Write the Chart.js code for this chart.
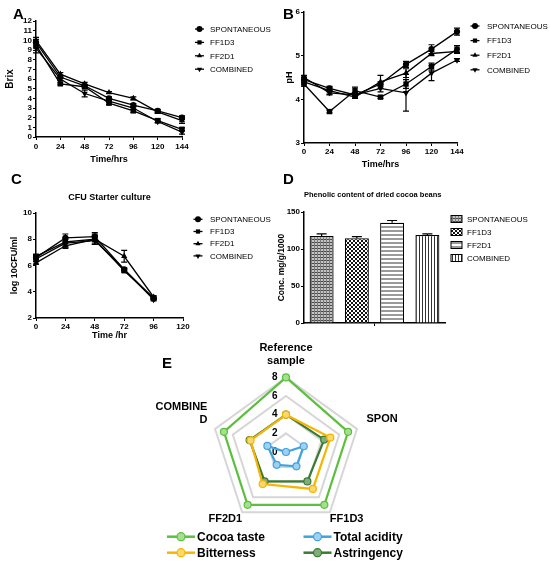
<!DOCTYPE html>
<html><head><meta charset="utf-8">
<script src="https://cdn.jsdelivr.net/npm/chart.js@4.4.1/dist/chart.umd.min.js"></script>
<style>
html,body{margin:0;padding:0;background:#fff}
body{width:550px;height:566px;position:relative;overflow:hidden;font-family:'Liberation Sans',Arial,sans-serif}
canvas{position:absolute;display:block}
.tag{position:absolute;font-weight:bold;font-size:15px;line-height:15px;color:#000;z-index:5}
</style></head><body>
<canvas id="cE" width="372" height="246" style="left:100px;top:320px"></canvas>
<canvas id="cA" width="275" height="170" style="left:0;top:0"></canvas>
<canvas id="cB" width="275" height="170" style="left:275px;top:0"></canvas>
<canvas id="cC" width="275" height="176" style="left:0;top:170px"></canvas>
<canvas id="cD" width="275" height="170" style="left:275px;top:170px"></canvas>
<div class="tag" style="left:13px;top:6px">A</div>
<div class="tag" style="left:283px;top:6px">B</div>
<div class="tag" style="left:11px;top:171px">C</div>
<div class="tag" style="left:283px;top:171px">D</div>
<div class="tag" style="left:162px;top:355px">E</div>
<script>
// ---------- data ----------
const timeHrs = [0, 24, 48, 72, 96, 120, 144];
const timeHrC = [0, 24, 48, 72, 96];
const timeTicksC = [0, 24, 48, 72, 96, 120];
const seriesNames = ['SPONTANEOUS', 'FF1D3', 'FF2D1', 'COMBINED'];

const brixTicks = [0,1,2,3,4,5,6,7,8,9,10,11,12];
const brixSpontaneous = [9.8, 6.2, 5.3, 4.0, 3.3, 2.7, 2.0];
const brixFF1D3       = [9.5, 5.5, 5.2, 3.5, 2.7, 1.7, 0.8];
const brixFF2D1       = [10.0, 6.5, 5.5, 4.6, 4.0, 2.6, 1.7];
const brixCombined    = [9.2, 6.0, 4.5, 3.7, 3.0, 1.6, 0.5];
const brixErrSpontaneous = [0.3, 0.15, 0.15, 0.15, 0.15, 0.15, 0.2];
const brixErrFF1D3       = [0.3, 0.1, 0.15, 0.15, 0.15, 0.2, 0.15];
const brixErrFF2D1       = [0.3, 0.15, 0.15, 0.1, 0.15, 0.15, 0.3];
const brixErrCombined    = [0.5, 0.15, 0.35, 0.15, 0.15, 0.15, 0.2];

const phTicks = [3, 4, 5, 6];
const phSpontaneous = [4.45, 4.25, 4.1, 4.35, 4.8, 5.15, 5.55];
const phFF1D3       = [4.35, 3.72, 4.2, 4.05, 4.35, 4.75, 5.15];
const phFF2D1       = [4.4, 4.2, 4.05, 4.4, 4.6, 5.05, 5.1];
const phCombined    = [4.5, 4.15, 4.1, 4.25, 4.15, 4.6, 4.9];
const phErrSpontaneous = [0.05, 0.05, 0.04, 0.05, 0.07, 0.1, 0.08];
const phErrFF1D3       = [0.05, 0.03, 0.08, 0.03, 0.1, 0.08, 0.08];
const phErrFF2D1       = [0.05, 0.08, 0.03, 0.15, 0.1, 0.05, 0.05];
const phErrCombined    = [0.05, 0.05, 0.05, 0.08, 0.42, 0.17, 0.03];

const cfuTicks = [2, 4, 6, 8, 10];
const cfuSpontaneous = [6.6, 8.1, 8.2, 5.7, 3.5];
const cfuFF1D3       = [6.7, 7.8, 8.0, 5.6, 3.5];
const cfuFF2D1       = [6.2, 7.5, 8.0, 6.7, 3.6];
const cfuCombined    = [6.5, 7.7, 7.9, 5.7, 3.4];
const cfuErrSpontaneous = [0.15, 0.3, 0.3, 0.1, 0.1];
const cfuErrFF1D3       = [0.15, 0.3, 0.3, 0.1, 0.1];
const cfuErrFF2D1       = [0.1, 0.2, 0.4, 0.45, 0.1];
const cfuErrCombined    = [0.1, 0.3, 0.3, 0.1, 0.1];

const phenolicTicks = [0, 50, 100, 150];
const phenolicValues = [117.5, 114.5, 135.5, 119];
const phenolicErrors = [3, 2.2, 3, 1.5];

const sensoryAxes = [['Reference', 'sample'], 'SPON', 'FF1D3', 'FF2D1', ['COMBINE', 'D']];
const sensoryTicks = [0, 2, 4, 6, 8];
const sensoryNames = ['Cocoa taste', 'Total acidity', 'Bitterness', 'Astringency'];
const cocoaTaste   = [8, 7, 7, 7, 7];
const totalAcidity = [0, 2, 1.9, 1.7, 2.1];
const bitterness   = [4, 5, 4.9, 4.25, 4];
const astringency  = [4, 4.3, 3.9, 3.9, 4.1];

// ---------- common ----------
const FONT = "'Liberation Sans', Arial, sans-serif";
Chart.defaults.font.family = FONT;
Chart.defaults.color = '#000';
const MARK = ['circle', 'rect', 'triangle', 'triangle'];
const MARKROT = [0, 0, 0, 180];
const MARKR = [3.1, 3.8, 3.6, 3.6];
const tickList = arr => s => { s.ticks = arr.map(v => ({value: v})); };

function errorBarPlugin(capHalf, upOnly) {
  return { id: 'errBars', afterDatasetsDraw(chart) {
    const ctx = chart.ctx; ctx.save(); ctx.strokeStyle = '#000'; ctx.lineWidth = 1.2;
    chart.data.datasets.forEach((ds, i) => {
      if (!ds.errors) return;
      const meta = chart.getDatasetMeta(i); const ys = chart.scales[meta.yAxisID];
      meta.data.forEach((el, j) => {
        const d = ds.data[j]; const v = (typeof d === 'object') ? d.y : d; const e = ds.errors[j];
        if (!e) return;
        const yt = ys.getPixelForValue(v + e); const yb = ys.getPixelForValue(upOnly ? v : v - e); const x = el.x;
        ctx.beginPath(); ctx.moveTo(x, yb); ctx.lineTo(x, yt);
        ctx.moveTo(x - capHalf, yt); ctx.lineTo(x + capHalf, yt);
        if (!upOnly) { ctx.moveTo(x - capHalf, yb); ctx.lineTo(x + capHalf, yb); }
        ctx.stroke();
      });
    });
    ctx.restore();
  }};
}

function sideLegend(cfg) {
  return { id: 'sideLegend', afterDraw(chart) {
    const ctx = chart.ctx; ctx.save();
    chart.data.datasets.forEach((ds, i) => {
      const x = cfg.pos ? cfg.pos[i][0] : cfg.x;
      const y = cfg.pos ? cfg.pos[i][1] : cfg.y + i * cfg.dy;
      if (cfg.kind === 'box') {
        ctx.fillStyle = ds.backgroundColor; ctx.fillRect(x, y - cfg.bh / 2, cfg.bw, cfg.bh);
        ctx.strokeStyle = '#000'; ctx.lineWidth = 1; ctx.strokeRect(x, y - cfg.bh / 2, cfg.bw, cfg.bh);
      } else {
        ctx.strokeStyle = ds.borderColor; ctx.lineWidth = cfg.lw;
        ctx.beginPath(); ctx.moveTo(x - cfg.half, y); ctx.lineTo(x + cfg.half, y); ctx.stroke();
        ctx.fillStyle = ds.pointBackgroundColor; ctx.strokeStyle = ds.pointBorderColor; ctx.lineWidth = cfg.pbw;
        Chart.helpers.drawPoint(ctx, {pointStyle: ds.pointStyle, rotation: ds.pointRotation || 0, radius: cfg.r, borderWidth: cfg.pbw}, x, y);
      }
      ctx.fillStyle = '#000'; ctx.font = cfg.font; ctx.textAlign = 'left'; ctx.textBaseline = 'middle';
      ctx.fillText(ds.label, x + cfg.tx, y + 0.5);
    });
    ctx.restore();
  }};
}

function lineChart(id, L) {
  const datasets = seriesNames.map((name, i) => ({
    label: name, data: L.x.map((x, j) => ({x: x, y: L.y[i][j]})), errors: L.err[i],
    borderColor: '#000', backgroundColor: '#000', borderWidth: 1.3,
    pointStyle: MARK[i], pointRotation: MARKROT[i], pointRadius: MARKR[i], pointBorderWidth: 0,
    pointBackgroundColor: '#000', pointBorderColor: '#000', tension: 0, fill: false, clip: false
  }));
  const axisFont = {size: 8, weight: 'bold'};
  return new Chart(document.getElementById(id), {
    type: 'line', data: {datasets},
    plugins: [errorBarPlugin(3, false), sideLegend(L.legend)],
    options: {
      responsive: false, animation: false, events: [],
      layout: {padding: L.pad},
      plugins: {legend: {display: false}, tooltip: {enabled: false},
        title: L.title ? {display: true, text: L.title, fullSize: false, font: {size: 9, weight: 'bold'}, color: '#000', padding: {top: 0, bottom: L.titlePad}} : {display: false}},
      scales: {
        x: {type: 'linear', min: L.xMin, max: L.xMax, afterBuildTicks: tickList(L.xTicks), afterFit: s => { s.height = L.xH; },
          ticks: {font: axisFont, color: '#000', padding: L.xTickPad, maxRotation: 0, autoSkip: false},
          grid: {drawOnChartArea: false, color: '#000', tickLength: 3, lineWidth: 1}, border: {color: '#000', width: 1.5},
          title: {display: true, text: L.xTitle, font: {size: 9, weight: 'bold'}, color: '#000', padding: {top: 0, bottom: L.xTitlePad}}},
        y: {min: L.yMin, max: L.yMax, afterBuildTicks: tickList(L.yTicks), afterFit: s => { s.width = L.yW; },
          ticks: {font: axisFont, color: '#000', padding: 1, autoSkip: false},
          grid: {drawOnChartArea: false, color: '#000', tickLength: 3, lineWidth: 1}, border: {color: '#000', width: 1.5},
          title: {display: true, text: L.yTitle, font: {size: L.yTitleSize, weight: 'bold'}, color: '#000', padding: {top: L.yTitlePad, bottom: 0}}}
      }
    }
  });
}

const legendFont = "8px " + FONT;

lineChart('cA', {
  x: timeHrs, y: [brixSpontaneous, brixFF1D3, brixFF2D1, brixCombined],
  err: [brixErrSpontaneous, brixErrFF1D3, brixErrFF2D1, brixErrCombined],
  xMin: 0, xMax: 144, xTicks: timeHrs, yMin: 0, yMax: 12, yTicks: brixTicks,
  xTitle: 'Time/hrs', yTitle: 'Brix', yTitleSize: 10, yTitlePad: 2, xTitlePad: 4.6, xTickPad: 2,
  pad: {left: 2, top: 21, right: 93, bottom: 0}, yW: 34, xH: 33,
  legend: {x: 199.5, y: 29, dy: 13.4, half: 4.5, r: 3, lw: 1.3, pbw: 0, tx: 10.5, font: legendFont}
});

lineChart('cB', {
  x: timeHrs, y: [phSpontaneous, phFF1D3, phFF2D1, phCombined],
  err: [phErrSpontaneous, phErrFF1D3, phErrFF2D1, phErrCombined],
  xMin: 0, xMax: 144, xTicks: timeHrs, yMin: 3, yMax: 6, yTicks: phTicks,
  xTitle: 'Time/hrs', yTitle: 'pH', yTitleSize: 9, yTitlePad: 7.6, xTitlePad: 0, xTickPad: 1,
  pad: {left: 2, top: 12, right: 93, bottom: 0}, yW: 27, xH: 27,
  legend: {x: 200, y: 26, dy: 14.6, half: 4.5, r: 3, lw: 1.3, pbw: 0, tx: 12, font: legendFont}
});

lineChart('cC', {
  x: timeHrC, y: [cfuSpontaneous, cfuFF1D3, cfuFF2D1, cfuCombined],
  err: [cfuErrSpontaneous, cfuErrFF1D3, cfuErrFF2D1, cfuErrCombined],
  xMin: 0, xMax: 120, xTicks: timeTicksC, yMin: 2, yMax: 10, yTicks: cfuTicks,
  xTitle: 'Time /hr', yTitle: 'log 10CFU/ml', yTitleSize: 9, yTitlePad: 7.6, xTitlePad: 4.6, xTickPad: 1,
  title: 'CFU Starter culture', titlePad: 10.2,
  pad: {left: 2, top: 22, right: 92, bottom: 0}, yW: 34, xH: 28,
  legend: {x: 198, y: 49.3, dy: 12.2, half: 4.5, r: 3, lw: 1.3, pbw: 0, tx: 12, font: legendFont}
});

// ---------- D: patterned bars ----------
function makePattern(kind) {
  const c = document.createElement('canvas'); const g = c.getContext('2d');
  if (kind === 0) { c.width = 3; c.height = 3; g.fillStyle = '#c4c4c4'; g.fillRect(0, 0, 3, 3); g.fillStyle = '#4a4a4a'; g.fillRect(0, 0, 3, 1); g.fillStyle = '#7a7a7a'; g.fillRect(0, 0, 1, 3); }
  else if (kind === 1) { c.width = 4; c.height = 4; g.fillStyle = '#fff'; g.fillRect(0, 0, 4, 4); g.fillStyle = '#111'; g.fillRect(0, 0, 2, 2); g.fillRect(2, 2, 2, 2); }
  else if (kind === 2) { c.width = 4; c.height = 4; g.fillStyle = '#fff'; g.fillRect(0, 0, 4, 4); g.fillStyle = '#9a9a9a'; g.fillRect(0, 0, 4, 2); }
  else { c.width = 3; c.height = 3; g.fillStyle = '#fff'; g.fillRect(0, 0, 3, 3); g.fillStyle = '#333'; g.fillRect(0, 0, 1, 3); }
  return g.createPattern(c, 'repeat');
}
const ctxD = document.getElementById('cD').getContext('2d');
new Chart(ctxD, {
  type: 'bar',
  data: {labels: [''], datasets: seriesNames.map((name, i) => ({
    label: name, data: [phenolicValues[i]], errors: [phenolicErrors[i]],
    backgroundColor: makePattern(i), borderColor: '#000', borderWidth: 1.2,
    barPercentage: 0.68, categoryPercentage: 1
  }))},
  plugins: [errorBarPlugin(5, true), sideLegend({kind: 'box', x: 176, y: 49, dy: 13, bw: 11, bh: 7, tx: 16, font: legendFont})],
  options: {
    responsive: false, animation: false, events: [],
    layout: {padding: {left: 2, top: 20.5, right: 105, bottom: 0}},
    plugins: {legend: {display: false}, tooltip: {enabled: false},
      title: {display: true, text: 'Phenolic content of dried cocoa beans', align: 'start', fullSize: false, font: {size: 7.5, weight: 'bold'}, color: '#000', padding: {top: 0, bottom: 12.5}}},
    scales: {
      x: {offset: true, afterFit: s => { s.height = 17; },
        ticks: {callback: () => '', font: {size: 8}},
        grid: {offset: false, drawOnChartArea: false, color: '#000', tickLength: 3}, border: {color: '#000', width: 1.5}},
      y: {min: 0, max: 150, afterBuildTicks: tickList(phenolicTicks), afterFit: s => { s.width = 27; },
        ticks: {font: {size: 8, weight: 'bold'}, color: '#000', padding: 1},
        grid: {drawOnChartArea: false, color: '#000', tickLength: 3}, border: {color: '#000', width: 1.5},
        title: {display: true, text: 'Conc. mg/g/1000', font: {size: 8.5, weight: 'bold'}, color: '#000', padding: {top: 0, bottom: 0}}}
    }
  }
});

// ---------- E: radar ----------
const radarColors = [
  {line: '#5cbf3d', fill: '#a6de92'},
  {line: '#3ea3e0', fill: '#9fd0f0'},
  {line: '#f7b500', fill: '#fbd86e'},
  {line: '#3b7a33', fill: '#7fae78'}
];
const radarSeries = [cocoaTaste, totalAcidity, bitterness, astringency];
const labelPad = [5, 5, -5, -5, 3];
new Chart(document.getElementById('cE'), {
  type: 'radar',
  data: {labels: sensoryAxes, datasets: sensoryNames.map((name, i) => ({
    label: name, data: radarSeries[i], borderColor: radarColors[i].line, backgroundColor: 'rgba(0,0,0,0)',
    pointBackgroundColor: radarColors[i].fill, pointBorderColor: radarColors[i].line, pointStyle: 'circle',
    pointRadius: 3.5, pointBorderWidth: 1.2, borderWidth: 2.2, fill: false
  }))},
  plugins: [sideLegend({pos: [[81, 216.7], [217.5, 216.7], [81, 232.7], [217.5, 232.7]], half: 14, r: 4, lw: 2.5, pbw: 1.2, tx: 16, font: 'bold 12px ' + FONT})],
  options: {
    responsive: false, animation: false, events: [],
    layout: {padding: {left: 10, right: 10, top: 6, bottom: 17}},
    plugins: {legend: {display: false}, tooltip: {enabled: false}},
    scales: {r: {min: -0.0001, max: 8, afterBuildTicks: tickList(sensoryTicks),
      ticks: {showLabelBackdrop: false, backdropPadding: 0, color: '#000', font: {size: 10, weight: 'bold'}, callback: v => String(v) + '        '},
      grid: {color: '#d6d6d6', lineWidth: 2, circular: false}, angleLines: {display: false},
      pointLabels: {color: '#000', font: {size: 11, weight: 'bold'}, padding: c => labelPad[c.index]}}}
  }
});
</script></body></html>
